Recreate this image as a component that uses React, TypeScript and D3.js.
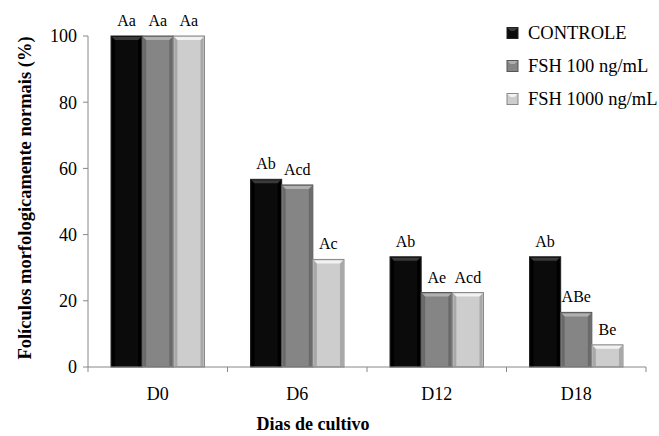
import React from 'react'
import * as d3 from 'd3'

const days = ['D0', 'D6', 'D12', 'D18']
const seriesNames = ['CONTROLE', 'FSH 100 ng/mL', 'FSH 1000 ng/mL']
const controle = [100, 56.7, 33.3, 33.3]
const fsh100 = [100, 55.0, 22.5, 16.5]
const fsh1000 = [100, 32.5, 22.5, 6.7]
const letters = [
  ['Aa', 'Ab', 'Ab', 'Ab'],
  ['Aa', 'Acd', 'Ae', 'ABe'],
  ['Aa', 'Ac', 'Acd', 'Be'],
]
const yTicks = [0, 20, 40, 60, 80, 100]

const fills = ['#0b0b0b', '#858585', '#cdcdcd']
const tops = ['#3a3a3a', '#b0b0b0', '#f2f2f2']
const sides = ['#000000', '#6a6a6a', '#a8a8a8']
const edges = ['#222', '#555', '#888']

const W = 659
const H = 436
const margin = { top: 36, right: 13, bottom: 69, left: 88 }
const serif = "'Liberation Serif', 'DejaVu Serif', serif"

export default function App() {
  const values = [controle, fsh100, fsh1000]
  const x = d3.scaleBand().domain(days).range([margin.left, W - margin.right]).paddingInner(0.33).paddingOuter(0.165)
  const xs = d3.scaleBand().domain(d3.range(3).map(String)).range([0, x.bandwidth()])
  const y = d3.scaleLinear().domain([0, 100]).range([H - margin.bottom, margin.top])
  const step = (W - margin.right - margin.left) / days.length
  const y0 = y(0)

  return (
    <svg width={W} height={H} style={{ position: 'absolute', left: 0, top: 0, background: '#fff', fontFamily: serif }}>
      {/* bars */}
      {values.map((vals, s) =>
        vals.map((v, i) => {
          const bx = x(days[i])! + xs(String(s))!
          const bw = xs.bandwidth()
          const by = y(v)
          const bh = y0 - by
          return (
            <g key={`${s}-${i}`}>
              <rect x={bx} y={by} width={bw} height={bh} fill={fills[s]} stroke={edges[s]} strokeWidth={1} />
              <rect x={bx + 1} y={by + 1} width={3} height={bh - 1} fill={sides[s]} />
              <rect x={bx + bw - 4} y={by + 1} width={3} height={bh - 1} fill={sides[s]} />
              <path d={`M${bx + 1},${by + 1}H${bx + bw - 1}L${bx + bw - 4},${by + 4}H${bx + 4}Z`} fill={tops[s]} />
              <text x={bx + bw / 2} y={by - 10} textAnchor="middle" fontSize={16} fill="#000">
                {letters[s][i]}
              </text>
            </g>
          )
        })
      )}

      {/* y axis */}
      <line x1={margin.left} x2={margin.left} y1={margin.top} y2={y0} stroke="#888" />
      {yTicks.map((t) => (
        <g key={t}>
          <line x1={margin.left - 5} x2={margin.left} y1={y(t)} y2={y(t)} stroke="#888" />
          <text x={margin.left - 11} y={y(t)} dy="0.35em" textAnchor="end" fontSize={18}>
            {t}
          </text>
        </g>
      ))}

      {/* x axis */}
      <line x1={margin.left} x2={W - margin.right} y1={y0} y2={y0} stroke="#888" />
      {d3.range(days.length + 1).map((k) => (
        <line key={k} x1={margin.left + k * step} x2={margin.left + k * step} y1={y0} y2={y0 + 5} stroke="#888" />
      ))}
      {days.map((d) => (
        <text key={d} x={x(d)! + x.bandwidth() / 2} y={y0 + 33} textAnchor="middle" fontSize={18}>
          {d}
        </text>
      ))}

      <text x={313} y={430} textAnchor="middle" fontSize={18} fontWeight="bold">
        Dias de cultivo
      </text>
      <text transform="translate(31, 198) rotate(-90)" textAnchor="middle" fontSize={18.5} fontWeight="bold">
        Folículos morfologicamente normais (%)
      </text>

      {/* legend */}
      {seriesNames.map((n, s) => {
        const ly = 33 + s * 33
        return (
          <g key={n}>
            <rect x={507} y={ly - 5.5} width={11} height={11} fill={fills[s]} stroke={edges[s]} />
            <path d={`M507.5,${ly - 5}H517.5L514.5,${ly - 2}H510.5Z`} fill={tops[s]} />
            <text x={528} y={ly} dy="0.35em" fontSize={18.5}>
              {n}
            </text>
          </g>
        )
      })}
    </svg>
  )
}
